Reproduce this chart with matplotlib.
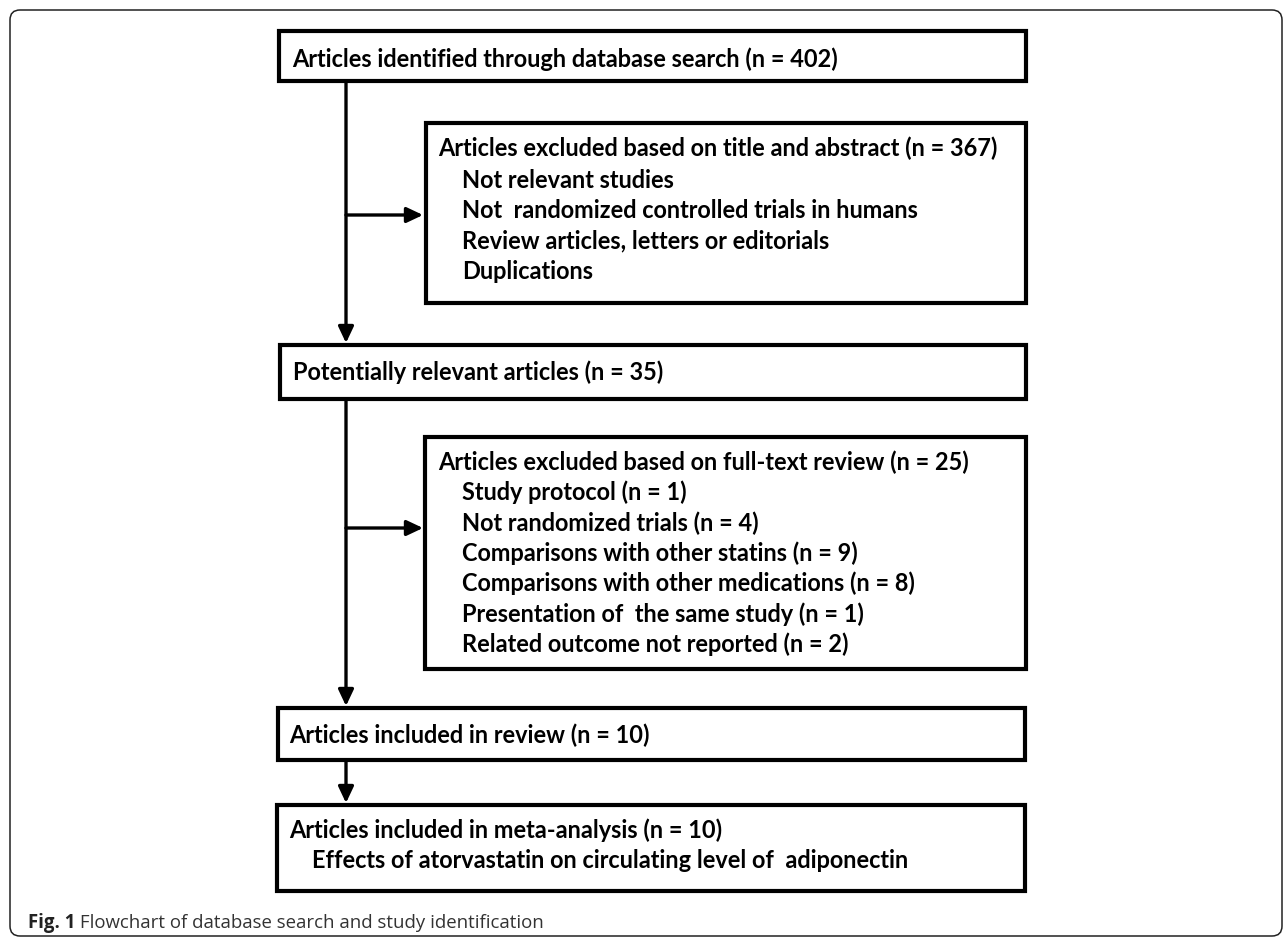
import matplotlib.pyplot as plt
from matplotlib.patches import Rectangle, FancyBboxPatch

# box texts (title line + indented items)
identified = "Articles identified through database search (n = 402)"
excl_title = "Articles excluded based on title and abstract (n = 367)"
excl_title_items = ["Not relevant studies",
                    "Not  randomized controlled trials in humans",
                    "Review articles, letters or editorials",
                    "Duplications"]
relevant = "Potentially relevant articles (n = 35)"
excl_full = "Articles excluded based on full-text review (n = 25)"
excl_full_items = ["Study protocol (n = 1)",
                   "Not randomized trials (n = 4)",
                   "Comparisons with other statins (n = 9)",
                   "Comparisons with other medications (n = 8)",
                   "Presentation of  the same study (n = 1)",
                   "Related outcome not reported (n = 2)"]
review = "Articles included in review (n = 10)"
meta = "Articles included in meta-analysis (n = 10)"
meta_items = ["Effects of atorvastatin on circulating level of  adiponectin"]
cap_bold = "Fig. 1"
cap_text = " Flowchart of database search and study identification"

W, H = 1287, 938
fig = plt.figure(figsize=(W / 100, H / 100), dpi=100)
ax = fig.add_axes([0, 0, 1, 1])
ax.set_xlim(0, W)
ax.set_ylim(H, 0)
ax.axis('off')
rend = fig.canvas.get_renderer()


def width_px(s, **kw):
    t = ax.text(0, 0, s, **kw)
    w = t.get_window_extent(renderer=rend).width
    t.remove()
    return w


# size the box font so the first line is as wide as in the figure (~548 px)
fs = 16 * 548 / width_px(identified, family='Lato', weight='bold', fontsize=16)
FONT = dict(family='Lato', weight='bold', fontsize=fs, color='black')
LSP = 30.3

# outer rounded frame
ax.add_patch(FancyBboxPatch((10, 10), 1272, 926,
                            boxstyle="round,pad=0,rounding_size=10",
                            fill=False, lw=1.1, ec='#222222'))


def box(x0, y0, x1, y1, title, items, tx, base, indent=24):
    ax.add_patch(Rectangle((x0, y0), x1 - x0, y1 - y0, fill=False,
                           lw=3.0, ec='black', joinstyle='miter'))
    ax.text(tx, base, title, va='baseline', ha='left', **FONT)
    for i, s in enumerate(items):
        ax.text(tx + indent, base + LSP * (i + 1) + (1.5 if len(items) == 4 else 0),
                s, va='baseline', ha='left', **FONT)


box(279, 31, 1026, 81, identified, [], 292, 67)
box(426, 123, 1026, 303, excl_title, excl_title_items, 438, 156)
box(280, 345, 1026, 399, relevant, [], 293, 380)
box(425, 437, 1026, 669, excl_full, excl_full_items, 438, 470)
box(278, 708, 1025, 760, review, [], 289, 743)
box(277, 805, 1025, 891, meta, meta_items, 289, 838, indent=23)

# connectors
CX = 346
AP = dict(arrowstyle='-|>,head_length=0.7,head_width=0.33', lw=2.4,
          color='black', shrinkA=0, shrinkB=0, mutation_scale=14)
ax.annotate('', xy=(CX, 343), xytext=(CX, 82), arrowprops=AP)
ax.annotate('', xy=(423, 215), xytext=(CX, 215), arrowprops=AP)
ax.annotate('', xy=(CX, 706), xytext=(CX, 400), arrowprops=AP)
ax.annotate('', xy=(423, 528), xytext=(CX, 528), arrowprops=AP)
ax.annotate('', xy=(CX, 803), xytext=(CX, 761), arrowprops=AP)

# caption, about 515 px wide in the figure
cfs = 15 * 515 / (width_px(cap_bold, family='Open Sans', weight='bold', fontsize=15)
                  + width_px(cap_text, family='Open Sans', fontsize=15))
t = ax.text(28, 928, cap_bold, family='Open Sans', weight='bold',
            fontsize=cfs, color='#222222', va='baseline', ha='left')
bb = t.get_window_extent(renderer=rend).transformed(ax.transData.inverted())
ax.text(bb.x1, 928, cap_text, family='Open Sans', fontsize=cfs,
        color='#333333', va='baseline', ha='left')

fig.savefig('out.png', dpi=100)
